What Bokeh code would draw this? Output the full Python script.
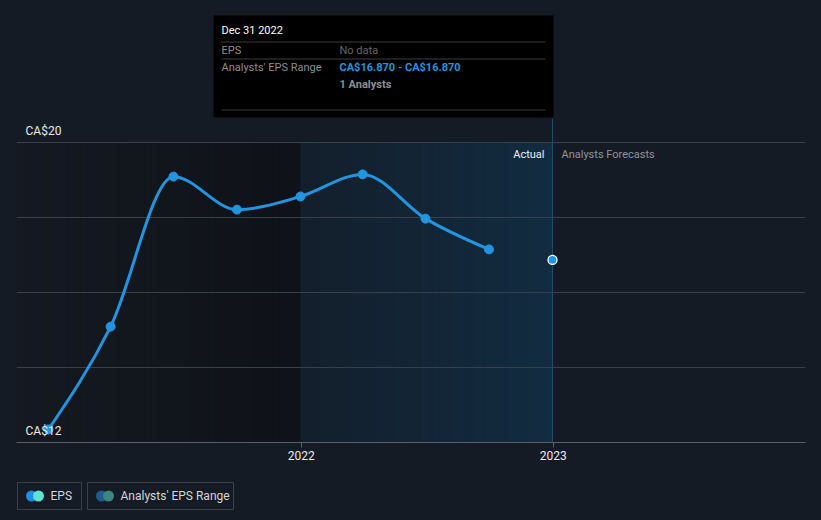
import numpy as np
import pandas as pd
from bokeh.plotting import figure
from bokeh.layouts import column
from bokeh.models import Range1d, FixedTicker, DatetimeTickFormatter, Grid
from bokeh.embed import file_html
from bokeh.resources import INLINE
from bokeh.core.properties import value

# ---------------- data ----------------
dates = ["2020-12-31", "2021-03-31", "2021-06-30", "2021-09-30",
         "2021-12-31", "2022-03-31", "2022-06-30", "2022-09-30"]
eps = [12.35, 15.09, 19.09, 18.21, 18.56, 19.15, 17.97, 17.15]
forecast_dates = ["2022-12-31"]
forecast_eps = [16.87]
forecast_analysts = [1]
highlight_start = "2021-12-31"
y_ticks = [12, 14, 16, 18, 20]
y_label_ticks = [12, 20]
y_label_text = ["CA$12", "CA$20"]
x_ticks = ["2022-01-01", "2023-01-01"]

# ---------------- style / layout ----------------
BG = "#151b24"
FONT = "Roboto"
BLUE = "#2394df"
W, H_MAIN, H_LEG = 821, 470, 50
FRAME_L, FRAME_R, FRAME_B = 16, 805, 442
PX_PER_UNIT = 37.5
Y_MIN = 12.0


def to_ms(lst):
    return pd.to_datetime(lst).values.astype("datetime64[ms]").astype("int64").astype(float)


x = to_ms(dates)
y = np.array(eps, dtype=float)
fx = to_ms(forecast_dates)
hx = to_ms([highlight_start])[0]

# horizontal scale: one quarter = 63 px
anchor_ms = x[4]
anchor_px = 300.0
ms_per_px = (fx[0] - anchor_ms) / 252.0


def px_x(px):
    return anchor_ms + (px - anchor_px) * ms_per_px


def px_y(py):
    return Y_MIN + (FRAME_B - py) / PX_PER_UNIT


x_start, x_end = px_x(FRAME_L), px_x(FRAME_R)
y_end = px_y(0)

p = figure(width=W, height=H_MAIN, x_axis_type="datetime", y_axis_location=None,
           x_range=Range1d(x_start, x_end), y_range=Range1d(Y_MIN, y_end),
           output_backend="svg", toolbar_location=None,
           min_border_left=FRAME_L, min_border_right=W - FRAME_R,
           min_border_top=0, min_border_bottom=H_MAIN - FRAME_B,
           styles={"background-color": BG})
p.background_fill_color = BG
p.border_fill_color = BG
p.outline_line_color = None
p.center = [r for r in p.center if not isinstance(r, Grid)]
p.add_layout(Grid(dimension=1, ticker=FixedTicker(ticks=y_ticks),
                  grid_line_color="#394049", grid_line_width=1))

# ---------------- shaded regions ----------------
top_y = max(y_ticks)
n = 40
# past region (darkening toward highlight start)
edges = np.linspace(x_start, hx, n + 1)
c0, c1 = np.array([21, 26, 34]), np.array([15, 18, 24])
cols = ["#%02x%02x%02x" % tuple((c0 + (c1 - c0) * t).astype(int)) for t in np.linspace(0, 1, n)]
p.quad(left=edges[:-1], right=edges[1:] + ms_per_px * 0.6, bottom=Y_MIN, top=top_y,
       fill_color=cols, line_color=None, level="image")
# highlighted last-year region (blue gradient)
edges = np.linspace(hx, fx[0], n + 1)
c0, c1 = np.array([20, 31, 44]), np.array([18, 44, 65])
cols = ["#%02x%02x%02x" % tuple((c0 + (c1 - c0) * t).astype(int)) for t in np.linspace(0, 1, n)]
p.quad(left=edges[:-1], right=edges[1:] + ms_per_px * 0.6, bottom=Y_MIN, top=top_y,
       fill_color=cols, line_color=None, level="image")

# vertical divider at forecast date
p.segment(x0=fx, y0=[Y_MIN], x1=fx, y1=[px_y(118)], line_color="#1d4b6e", line_width=1)

# ---------------- monotone curve (d3 monotoneX) via bezier ----------------
h = np.diff(x)
s = np.diff(y) / h
t = np.zeros_like(y)
for i in range(1, len(y) - 1):
    h0, h1 = h[i - 1], h[i]
    s0, s1 = s[i - 1], s[i]
    pp = (s0 * h1 + s1 * h0) / (h0 + h1)
    t[i] = (np.sign(s0) + np.sign(s1)) * min(abs(s0), abs(s1), 0.5 * abs(pp))
t[0] = (3 * s[0] - t[1]) / 2
t[-1] = (3 * s[-1] - t[-2]) / 2
dx = h / 3
p.bezier(x0=x[:-1], y0=y[:-1], x1=x[1:], y1=y[1:],
         cx0=x[:-1] + dx, cy0=y[:-1] + dx * t[:-1],
         cx1=x[1:] - dx, cy1=y[1:] - dx * t[1:],
         line_color=BLUE, line_width=3, line_cap="round")
p.scatter(x, y, size=9, fill_color=BLUE, line_color=BLUE)
p.scatter(fx, forecast_eps, size=9, fill_color=BLUE, line_color="white", line_width=1.3)

# ---------------- y labels ----------------
p.text(x=[x_start] * len(y_label_ticks), y=y_label_ticks, text=y_label_text,
       x_offset=9, y_offset=-5, text_baseline="bottom", text_align="left",
       text_color="#e8eaed", text_font_size="12px", text_font=value(FONT))

# Actual / Analysts Forecasts
p.text(x=fx, y=[top_y], text=["Actual"], x_offset=-8, y_offset=12,
       text_align="right", text_baseline="middle", text_color="#eef0f2",
       text_font_size="11px", text_font=value(FONT))
p.text(x=fx, y=[top_y], text=["Analysts Forecasts"], x_offset=9, y_offset=12,
       text_align="left", text_baseline="middle", text_color="#8e949c",
       text_font_size="11px", text_font=value(FONT))

# ---------------- tooltip ----------------
p.quad(left=[px_x(213)], right=[px_x(553)], top=[px_y(15)], bottom=[px_y(117)],
       fill_color="#000000", line_color=None)
p.segment(x0=[px_x(221)] * 3, x1=[px_x(545)] * 3,
          y0=[px_y(41.5), px_y(58.5), px_y(109.5)], y1=[px_y(41.5), px_y(58.5), px_y(109.5)],
          line_color="#3d3d3d", line_width=1)
fdate = pd.to_datetime(forecast_dates[0])
rng = f"CA${forecast_eps[0]:.3f} - CA${forecast_eps[0]:.3f}"
tt_x = [221, 221, 339, 221, 339, 339]
tt_y = [30, 49.5, 49.5, 66.5, 66.5, 83.5]
tt_text = [fdate.strftime("%b %d %Y"), "EPS", "No data", "Analysts' EPS Range", rng,
           f"{forecast_analysts[0]} Analysts"]
tt_col = ["#ffffff", "#8f8f8f", "#666666", "#8f8f8f", BLUE, "#8f8f8f"]
tt_style = ["normal", "normal", "normal", "normal", "bold", "bold"]
tt_size = ["11px", "11px", "11px", "11px", "11px", "11px"]
p.text(x=[px_x(v) for v in tt_x], y=[px_y(v) for v in tt_y], text=tt_text,
       text_color=tt_col, text_font_style=tt_style, text_font_size=tt_size,
       text_baseline="middle", text_align="left", text_font=value(FONT))

# ---------------- x axis ----------------
p.xaxis.ticker = FixedTicker(ticks=list(to_ms(x_ticks)))
p.xaxis.formatter = DatetimeTickFormatter(years="%Y", months="%Y", days="%Y")
p.xaxis.axis_line_color = "#5a6069"
p.xaxis.major_tick_line_color = "#5a6069"
p.xaxis.major_tick_in = 0
p.xaxis.major_tick_out = 5
p.xaxis.minor_tick_line_color = None
p.xaxis.major_label_text_color = "#e8eaed"
p.xaxis.major_label_text_font_size = "12px"
p.xaxis.major_label_text_font = FONT
p.xaxis.major_label_standoff = 3

# ---------------- legend strip ----------------
lg = figure(width=W, height=H_LEG, x_range=Range1d(FRAME_L, FRAME_R), y_range=Range1d(H_LEG, 0),
            output_backend="svg", toolbar_location=None,
            min_border_left=FRAME_L, min_border_right=W - FRAME_R,
            min_border_top=0, min_border_bottom=0,
            x_axis_location=None, y_axis_location=None,
            styles={"background-color": BG})
lg.background_fill_color = BG
lg.border_fill_color = BG
lg.outline_line_color = None
lg.center = [r for r in lg.center if not isinstance(r, Grid)]
lg.quad(left=[17, 87], right=[81, 233], top=[12, 12], bottom=[39, 39],
        fill_color=None, line_color="#3a4049", line_width=1)
lg.scatter([31, 101], [25.5, 25.5], size=11, fill_color=["#1f8fe5", "#1d5d8c"], line_color=None)
lg.scatter([38, 108], [25.5, 25.5], size=11, fill_color=["#5ee3d2", "#3d8580"], line_color=None)
lg.text(x=[50, 120], y=[25.5, 25.5], text=["EPS", "Analysts' EPS Range"],
        text_color="#d3d6da", text_font_size="12px", text_baseline="middle",
        text_font=value(FONT))

layout = column(p, lg, spacing=0, styles={"background-color": BG})
open("out.html", "w").write(file_html(layout, INLINE))
